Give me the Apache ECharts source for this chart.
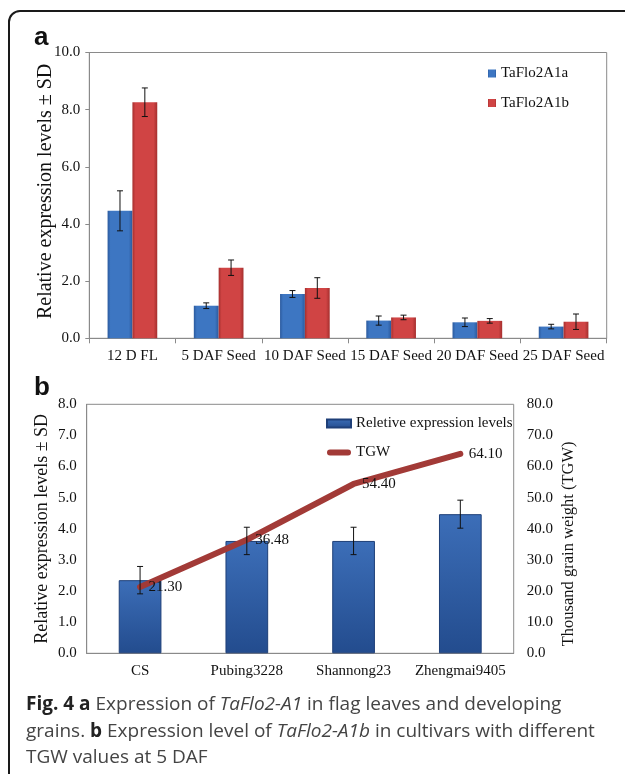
<!DOCTYPE html>
<html>
<head>
<meta charset="utf-8">
<script src="https://cdn.jsdelivr.net/npm/echarts@6/dist/echarts.min.js"></script>
<style>
html,body{margin:0;padding:0;background:#fff;width:625px;height:774px;overflow:hidden;}
#frame{position:absolute;left:8px;top:10px;width:700px;height:900px;border:2px solid #1a1a1a;border-radius:12px;box-sizing:border-box;}
#chart{position:absolute;left:0;top:0;width:625px;height:774px;}
#cap{position:absolute;left:26px;top:690px;width:595px;font-family:"Open Sans",sans-serif;font-size:19px;line-height:26.5px;color:#444;white-space:nowrap;}
#cap b{color:#222;font-weight:700;}
</style>
</head>
<body>
<div id="frame"></div>
<div id="chart"></div>
<div id="cap"><b>Fig. 4 a</b> Expression of <i>TaFlo2-A1</i> in flag leaves and developing<br>grains. <b>b</b> Expression level of <i>TaFlo2-A1b</i> in cultivars with different<br>TGW values at 5 DAF</div>
<script>
// ---- Panel a data ----
const categoriesA = ['12 D FL', '5 DAF Seed', '10 DAF Seed', '15 DAF Seed', '20 DAF Seed', '25 DAF Seed'];
const taFlo2A1a = [4.46, 1.14, 1.55, 0.62, 0.56, 0.41];
const taFlo2A1aSD = [0.70, 0.10, 0.12, 0.16, 0.15, 0.08];
const taFlo2A1b = [8.26, 2.47, 1.76, 0.73, 0.61, 0.58];
const taFlo2A1bSD = [0.50, 0.27, 0.36, 0.08, 0.08, 0.27];
const yTicksA = [0, 2, 4, 6, 8, 10];

// ---- Panel b data ----
const categoriesB = ['CS', 'Pubing3228', 'Shannong23', 'Zhengmai9405'];
const exprB = [2.35, 3.61, 3.61, 4.47];
const exprBSD = [0.44, 0.44, 0.44, 0.45];
const tgw = [21.30, 36.48, 54.40, 64.10];

const SERIF = 'Liberation Serif';
const chart = echarts.init(document.getElementById('chart'), null, {renderer: 'canvas'});

const LG = echarts.graphic.LinearGradient;
const blueA = new LG(0, 0, 1, 0, [
  {offset: 0, color: '#2B5A9E'}, {offset: 0.12, color: '#3D76C2'},
  {offset: 0.85, color: '#3D76C2'}, {offset: 1, color: '#2B5A9E'}]);
const redA = new LG(0, 0, 1, 0, [
  {offset: 0, color: '#A52F2E'}, {offset: 0.12, color: '#D04444'},
  {offset: 0.85, color: '#D04444'}, {offset: 1, color: '#A52F2E'}]);
const blueB = new LG(0, 0, 0, 1, [
  {offset: 0, color: '#3C6EB8'}, {offset: 1, color: '#234C8E'}]);

function errData(vals, sds, side) {
  return vals.map((v, i) => [i, v - sds[i], v + sds[i], side]);
}
function errRender(frac) {
  return function (params, api) {
    const i = api.value(0);
    const side = api.value(3);
    const band = api.size([1, 0])[0];
    const dx = side * band * frac;
    const pLo = api.coord([i, api.value(1)]);
    const pHi = api.coord([i, api.value(2)]);
    const x = pLo[0] + dx;
    const c = 3;
    const st = {stroke: '#111', lineWidth: 1};
    return {type: 'group', children: [
      {type: 'line', shape: {x1: x, y1: pLo[1], x2: x, y2: pHi[1]}, style: st},
      {type: 'line', shape: {x1: x - c, y1: pLo[1], x2: x + c, y2: pLo[1]}, style: st},
      {type: 'line', shape: {x1: x - c, y1: pHi[1], x2: x + c, y2: pHi[1]}, style: st}
    ]};
  };
}

const axisLbl = {fontFamily: SERIF, fontSize: 15, color: '#111'};
const lineIcon = 'path://M3,0 L21,0 A3,3 0 0 1 21,6 L3,6 A3,3 0 0 1 3,0 Z';

chart.setOption({
  animation: false,
  textStyle: {fontFamily: SERIF},
  graphic: [
    {type: 'text', left: 34, top: 25, style: {text: 'a', font: 'bold 26px "Liberation Sans"', fill: '#111'}},
    {type: 'text', left: 34, top: 375, style: {text: 'b', font: 'bold 26px "Liberation Sans"', fill: '#111'}}
  ],
  grid: [
    {left: 89.3, top: 52.5, width: 517.4, height: 285.8, show: true, borderColor: '#8a8a8a', borderWidth: 1},
    {left: 86.7, top: 404.3, width: 427, height: 249, show: true, borderColor: '#8a8a8a', borderWidth: 1}
  ],
  legend: [
    {data: ['TaFlo2A1a', 'TaFlo2A1b'], orient: 'vertical', left: 488, top: 66, padding: 0,
     itemWidth: 8, itemHeight: 8, itemGap: 14.5, icon: 'rect',
     textStyle: {fontFamily: SERIF, fontSize: 15, color: '#111'}},
    {data: [{name: 'Reletive expression levels', icon: 'rect'}, {name: 'TGW', icon: lineIcon}],
     orient: 'vertical', left: 326, top: 416, padding: 0,
     itemWidth: 24, itemHeight: 8, itemGap: 14,
     textStyle: {fontFamily: SERIF, fontSize: 15, color: '#111'}}
  ],
  xAxis: [
    {type: 'category', gridIndex: 0, data: categoriesA,
     axisLine: {lineStyle: {color: '#8a8a8a'}},
     axisTick: {show: true, length: 5, interval: 0, lineStyle: {color: '#8a8a8a'}},
     axisLabel: Object.assign({margin: 10, interval: 0}, axisLbl)},
    {type: 'category', gridIndex: 1, data: categoriesB,
     axisLine: {lineStyle: {color: '#8a8a8a'}},
     axisTick: {show: false},
     axisLabel: Object.assign({margin: 10, interval: 0}, axisLbl)}
  ],
  yAxis: [
    {type: 'value', gridIndex: 0, min: yTicksA[0], max: yTicksA[yTicksA.length - 1], interval: 2,
     name: 'Relative expression levels \u00B1 SD', nameLocation: 'middle', nameGap: 34, nameRotate: 90,
     nameMoveOverlap: false,
     nameTextStyle: {fontFamily: SERIF, fontSize: 20, color: '#111', padding: [0, 0, 0, 8]},
     axisLine: {show: true, lineStyle: {color: '#8a8a8a'}},
     axisTick: {show: true, length: 4, lineStyle: {color: '#8a8a8a'}},
     splitLine: {show: false},
     axisLabel: Object.assign({margin: 9, formatter: v => v.toFixed(1)}, axisLbl)},
    {type: 'value', gridIndex: 1, min: 0, max: 8, interval: 1,
     name: 'Relative expression levels \u00B1 SD', nameLocation: 'middle', nameGap: 35, nameRotate: 90,
     nameMoveOverlap: false,
     nameTextStyle: {fontFamily: SERIF, fontSize: 18, color: '#111'},
     axisLine: {show: true, lineStyle: {color: '#8a8a8a'}},
     axisTick: {show: false}, splitLine: {show: false},
     axisLabel: Object.assign({margin: 10, formatter: v => v.toFixed(1)}, axisLbl)},
    {type: 'value', gridIndex: 1, position: 'right', min: 0, max: 80, interval: 10,
     name: 'Thousand grain weight (TGW)', nameLocation: 'middle', nameGap: 46, nameRotate: 90,
     nameMoveOverlap: false,
     nameTextStyle: {fontFamily: SERIF, fontSize: 16.5, color: '#111', padding: [0, 30, 0, 0]},
     axisLine: {show: false}, axisTick: {show: false}, splitLine: {show: false},
     axisLabel: Object.assign({margin: 13, formatter: v => v.toFixed(1)}, axisLbl)}
  ],
  series: [
    {name: 'TaFlo2A1a', type: 'bar', xAxisIndex: 0, yAxisIndex: 0, data: taFlo2A1a,
     barWidth: '28.8%', barGap: '0%', itemStyle: {color: blueA}},
    {name: 'TaFlo2A1b', type: 'bar', xAxisIndex: 0, yAxisIndex: 0, data: taFlo2A1b,
     barWidth: '28.8%', barGap: '0%', itemStyle: {color: redA}},
    {type: 'custom', xAxisIndex: 0, yAxisIndex: 0, renderItem: errRender(0.144), z: 5,
     data: errData(taFlo2A1a, taFlo2A1aSD, -1).concat(errData(taFlo2A1b, taFlo2A1bSD, 1))},
    {name: 'Reletive expression levels', type: 'bar', xAxisIndex: 1, yAxisIndex: 1, data: exprB,
     barWidth: '40%', itemStyle: {color: blueB, borderColor: '#1E3F78', borderWidth: 1}},
    {name: 'TGW', type: 'line', xAxisIndex: 1, yAxisIndex: 2, data: tgw, z: 4,
     symbol: 'circle', symbolSize: 1, itemStyle: {color: '#A23A37'},
     lineStyle: {color: '#A23A37', width: 6, cap: 'round', join: 'round'},
     label: {show: true, position: 'right', distance: 8, fontFamily: SERIF, fontSize: 15, color: '#111',
             formatter: p => p.value.toFixed(2)}},
    {type: 'custom', xAxisIndex: 1, yAxisIndex: 1, renderItem: errRender(0), z: 6,
     data: errData(exprB, exprBSD, 0)}
  ]
});
</script>
</body>
</html>
